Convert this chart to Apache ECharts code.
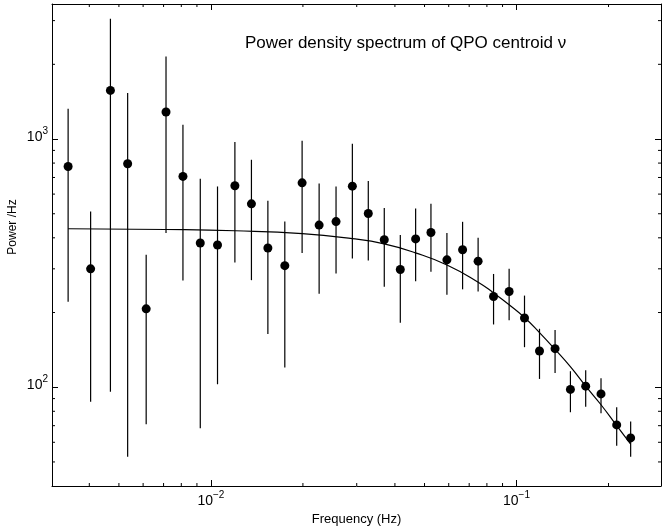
<!DOCTYPE html>
<html><head><meta charset="utf-8">
<script src="https://cdn.jsdelivr.net/npm/echarts@6/dist/echarts.min.js"></script>
<style>html,body{margin:0;padding:0;background:#fff}#c{width:662px;height:532px}</style>
</head><body><div id="c"></div>
<script>
// Observed power density spectrum (frequency in Hz, power per Hz)
const freq = [0.00341, 0.00404, 0.00469, 0.00534, 0.00614, 0.00713, 0.00810, 0.00923, 0.01051, 0.01198, 0.01357, 0.01536, 0.01745, 0.01988, 0.0226, 0.02567, 0.02903, 0.03273, 0.03692, 0.04166, 0.04676, 0.05248, 0.05919, 0.06661, 0.07487, 0.08411, 0.09458, 0.1062, 0.1189, 0.1337, 0.1501, 0.1684, 0.189, 0.2127, 0.2363];
const power = [775, 300, 1570, 795, 207, 1285, 707, 381, 374, 648, 548, 364, 309, 666, 450, 465, 646, 501, 393, 298, 396, 420, 326, 358, 322, 232, 243, 190, 140, 143, 98, 101, 94, 70.5, 62.5];
const errHigh = [1325, 511, 3055, 1533, 342, 2153, 1142, 692, 644, 972, 825, 564, 465, 984, 662, 644, 957, 677, 527, 411, 525, 548, 418, 464, 400, 286, 300, 234, 172, 170, 116, 117, 108.7, 83.1, 72.7];
const errLow = [221, 87.5, 95.9, 52.5, 70.9, 418, 269, 68.3, 102.8, 318, 270, 164, 120, 347, 238, 287, 330, 324, 254, 182, 267, 292, 236, 248, 243, 179, 186, 145, 108, 114, 79.3, 83.5, 78.6, 58.1, 52.5];
// Model curve
const modelFreq = [0.00341, 0.00713, 0.0120, 0.0199, 0.0290, 0.0369, 0.0467, 0.0592, 0.0749, 0.0841, 0.0946, 0.1062, 0.1189, 0.1337, 0.150, 0.1684, 0.189, 0.2127, 0.2363];
const modelPower = [435, 432, 427, 416, 397, 378, 348, 311, 265, 240, 215, 191, 166, 142, 121, 101, 85, 70, 59];
// Axis ranges and minor tick values
const xRange = [0.00302, 0.297];
const yRange = [40, 3500];
const xMinorTicks = [0.004, 0.005, 0.006, 0.007, 0.008, 0.009, 0.02, 0.03, 0.04, 0.05, 0.06, 0.07, 0.08, 0.09, 0.2];
const yMinorTicks = [50, 60, 70, 80, 90, 200, 300, 400, 500, 600, 700, 800, 900, 2000, 3000];
const titleText = 'Power density spectrum of QPO centroid ν';
const xName = 'Frequency (Hz)';
const yName = 'Power /Hz';

const FONT = 'Liberation Sans';
const chart = echarts.init(document.getElementById('c'));

function powLabel(v) {
  const e = Math.round(Math.log10(v));
  const s = e < 0 ? '\u2212' + (-e) : String(e);
  return '{b|10}{s|' + s + '}';
}
const rich = {
  b: {fontFamily: FONT, fontSize: 14, color: '#000', verticalAlign: 'bottom', lineHeight: 14},
  s: {fontFamily: FONT, fontSize: 10, color: '#000', verticalAlign: 'bottom', lineHeight: 10, padding: [0, 0, 8, 0]}
};
const axisLineStyle = {show: true, lineStyle: {color: '#000', width: 1}};
const majorTick = {show: true, inside: true, length: 6, lineStyle: {color: '#000', width: 1}};

function xAxisDef(pos, labels) {
  return {
    type: 'log', position: pos, min: xRange[0], max: xRange[1], logBase: 10,
    axisLine: axisLineStyle, axisTick: majorTick, splitLine: {show: false},
    axisLabel: labels ? {show: true, formatter: powLabel, rich: rich, margin: 8, showMinLabel: false, showMaxLabel: false} : {show: false},
    name: labels ? xName : '', nameLocation: 'middle', nameGap: 27, nameMoveOverlap: false,
    nameTextStyle: {fontFamily: FONT, fontSize: 13, color: '#000'}
  };
}
function yAxisDef(pos, labels) {
  return {
    type: 'log', position: pos, min: yRange[0], max: yRange[1], logBase: 10,
    axisLine: axisLineStyle, axisTick: majorTick, splitLine: {show: false},
    axisLabel: labels ? {show: true, formatter: powLabel, rich: rich, margin: 4, padding: [0, 0, 4, 0], showMinLabel: false, showMaxLabel: false} : {show: false},
    name: labels ? yName : '', nameLocation: 'middle', nameGap: 33, nameMoveOverlap: false,
    nameTextStyle: {fontFamily: FONT, fontSize: 12, color: '#000', padding: [0, 0, 0, 36]}
  };
}

const option = {
  animation: false,
  backgroundColor: '#fff',
  title: {text: titleText, left: 245, top: 35, padding: 0,
    textStyle: {fontFamily: FONT, fontSize: 17, fontWeight: 'normal', color: '#000'}},
  grid: {left: 52, right: 1, top: 4, bottom: 46, containLabel: false, outerBoundsMode: 'none'},
  xAxis: [xAxisDef('bottom', true), xAxisDef('top', false)],
  yAxis: [yAxisDef('left', true), yAxisDef('right', false)],
  series: [
    {
      type: 'custom', name: 'minorX', silent: true, clip: false, z: 1,
      data: xMinorTicks.map(v => [v, 100]),
      encode: {x: 0, y: 1},
      renderItem: function (params, api) {
        const cs = params.coordSys;
        const px = api.coord([api.value(0), 100])[0];
        const st = {stroke: '#000', lineWidth: 1};
        return {type: 'group', children: [
          {type: 'line', shape: {x1: px, y1: cs.y + cs.height, x2: px, y2: cs.y + cs.height - 3}, style: st},
          {type: 'line', shape: {x1: px, y1: cs.y, x2: px, y2: cs.y + 3}, style: st}
        ]};
      }
    },
    {
      type: 'custom', name: 'minorY', silent: true, clip: false, z: 1,
      data: yMinorTicks.map(v => [0.01, v]),
      encode: {x: 0, y: 1},
      renderItem: function (params, api) {
        const cs = params.coordSys;
        const py = api.coord([0.01, api.value(1)])[1];
        const st = {stroke: '#000', lineWidth: 1};
        return {type: 'group', children: [
          {type: 'line', shape: {x1: cs.x, y1: py, x2: cs.x + 3, y2: py}, style: st},
          {type: 'line', shape: {x1: cs.x + cs.width, y1: py, x2: cs.x + cs.width - 3, y2: py}, style: st}
        ]};
      }
    },
    {
      type: 'custom', name: 'errors', silent: true, z: 2,
      data: freq.map((f, i) => [f, errLow[i], errHigh[i]]),
      encode: {x: 0, y: [1, 2]},
      renderItem: function (params, api) {
        const lo = api.coord([api.value(0), api.value(1)]);
        const hi = api.coord([api.value(0), api.value(2)]);
        return {type: 'line', shape: {x1: lo[0], y1: lo[1], x2: hi[0], y2: hi[1]},
          style: {stroke: '#000', lineWidth: 1.2}};
      }
    },
    {
      type: 'line', name: 'model', z: 3, smooth: true, showSymbol: false, silent: true,
      data: modelFreq.map((f, i) => [f, modelPower[i]]),
      lineStyle: {color: '#000', width: 1.2}
    },
    {
      type: 'scatter', name: 'data', z: 4, symbol: 'circle', symbolSize: 9, silent: true,
      data: freq.map((f, i) => [f, power[i]]),
      itemStyle: {color: '#000', opacity: 1}
    }
  ]
};
chart.setOption(option);
</script>
</body></html>
